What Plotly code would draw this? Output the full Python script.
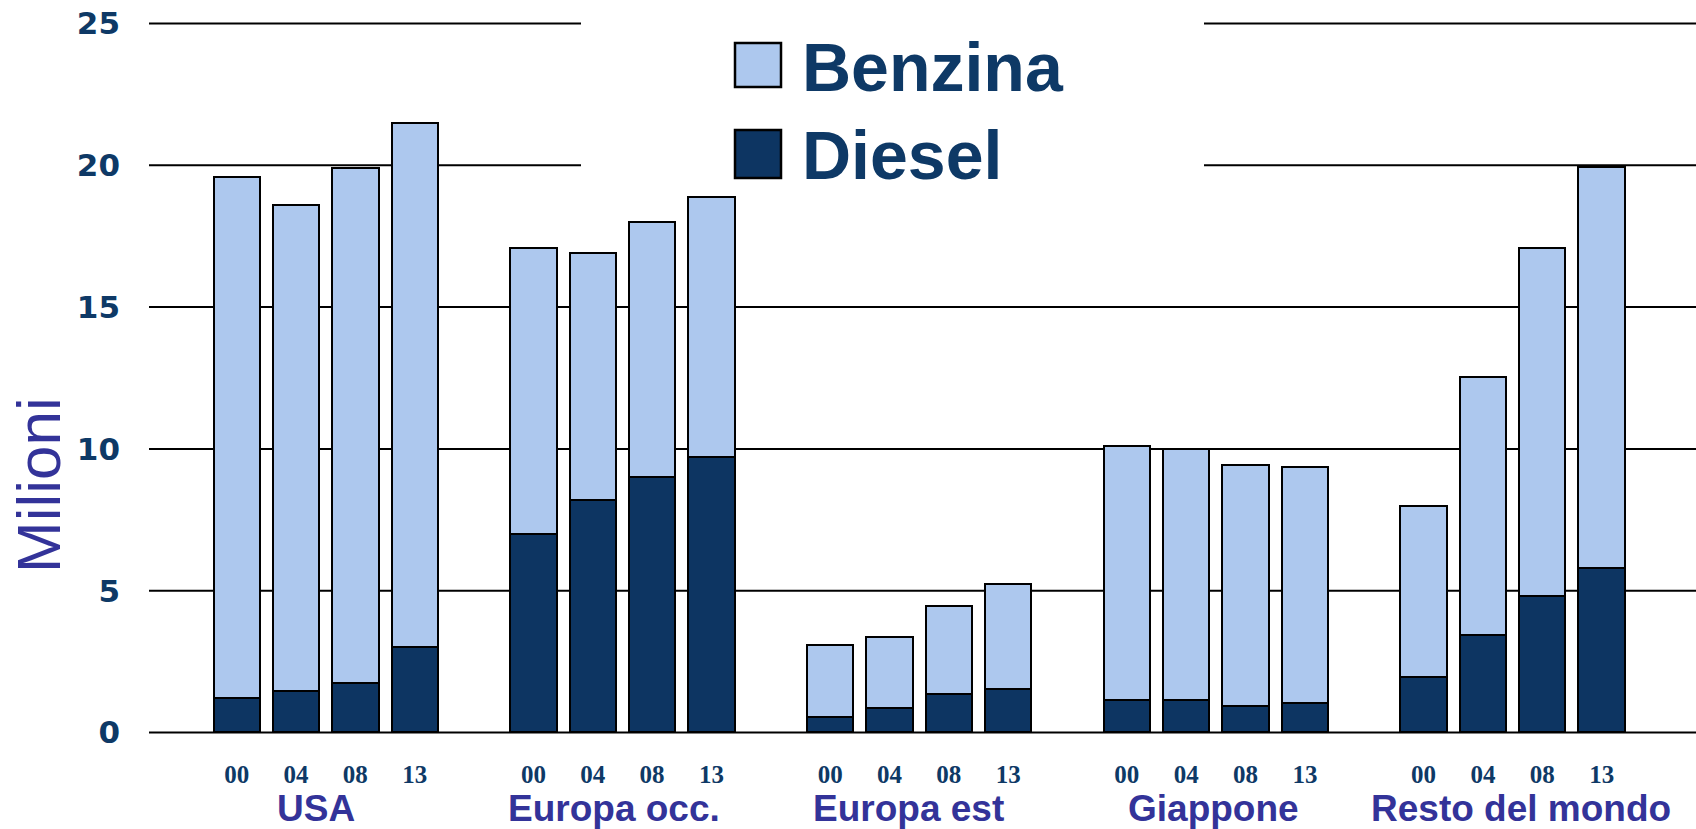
import plotly.graph_objects as go

regions = ["USA", "Europa occ.", "Europa est", "Giappone", "Resto del mondo"]
years = ["00", "04", "08", "13"]
diesel = [
    [1.2, 1.45, 1.75, 3.0],
    [7.0, 8.2, 9.0, 9.7],
    [0.55, 0.85, 1.35, 1.55],
    [1.15, 1.15, 0.95, 1.05],
    [1.95, 3.45, 4.8, 5.8],
]
benzina = [
    [18.4, 17.15, 18.15, 18.5],
    [10.1, 8.7, 9.0, 9.2],
    [2.55, 2.5, 3.1, 3.7],
    [8.95, 8.85, 8.5, 8.3],
    [6.05, 9.1, 12.3, 14.15],
]
y_ticks = [0, 5, 10, 15, 20, 25]

LIGHT = "#ADC8EE"
DARK = "#0D3562"
NAVY = "#0E3966"
INDIGO = "#333399"

xs, d_vals, b_vals, tick_text = [], [], [], []
group_centers = []
for gi, reg in enumerate(regions):
    pos = []
    for yi, yr in enumerate(years):
        x = gi * (len(years) + 1) + yi
        pos.append(x)
        xs.append(x)
        d_vals.append(diesel[gi][yi])
        b_vals.append(benzina[gi][yi])
        tick_text.append(yr)
    group_centers.append(sum(pos) / len(pos))

fig = go.Figure()
fig.add_trace(go.Bar(x=xs, y=d_vals, name="Diesel", width=0.78,
                     marker=dict(color=DARK, line=dict(color="black", width=2))))
fig.add_trace(go.Bar(x=xs, y=b_vals, name="Benzina", width=0.78,
                     marker=dict(color=LIGHT, line=dict(color="black", width=2))))

W, H = 1696, 829
ml, mr, mt, mb = 149, 0, 15, 88
pw, ph = W - ml - mr, H - mt - mb

def px_x(p):
    return (p - ml) / pw

def px_y(p):
    return (H - mb - p) / ph

# gridlines drawn as shapes; the top two are interrupted by the legend
gap0, gap1 = px_x(581), px_x(1204)
shapes = []
for t in y_ticks:
    if t >= 20:
        segs = [(0, gap0), (gap1, 1)]
    else:
        segs = [(0, 1)]
    for a, b in segs:
        shapes.append(dict(type="line", xref="paper", yref="y", x0=a, x1=b, y0=t, y1=t,
                           line=dict(color="black", width=2), layer="below"))

shapes += [
    dict(type="rect", xref="paper", yref="paper",
         x0=px_x(735), x1=px_x(781), y0=px_y(87), y1=px_y(43),
         fillcolor=LIGHT, line=dict(color="black", width=2.5)),
    dict(type="rect", xref="paper", yref="paper",
         x0=px_x(735), x1=px_x(781), y0=px_y(178), y1=px_y(130),
         fillcolor=DARK, line=dict(color="black", width=2.5)),
]

annotations = [
    dict(text="<b>Benzina</b>", xref="paper", yref="paper", x=px_x(800), y=px_y(67),
         xanchor="left", yanchor="middle", showarrow=False,
         font=dict(family="Liberation Sans", size=68, color=NAVY)),
    dict(text="<b>Diesel</b>", xref="paper", yref="paper", x=px_x(800), y=px_y(155),
         xanchor="left", yanchor="middle", showarrow=False,
         font=dict(family="Liberation Sans", size=68, color=NAVY)),
    dict(text="Milioni", xref="paper", yref="paper", x=px_x(38), y=px_y(485),
         xanchor="center", yanchor="middle", showarrow=False, textangle=-90,
         font=dict(family="Liberation Sans", size=62, color=INDIGO)),
]
label_shift = [-10, -8, -11, -2, 8]
for reg, c, s in zip(regions, group_centers, label_shift):
    annotations.append(dict(text="<b>%s</b>" % reg, x=c, xref="x", yref="paper",
                            y=px_y(808), xanchor="center", yanchor="middle", showarrow=False,
                            xshift=s,
                            font=dict(family="Liberation Sans", size=37, color=INDIGO)))

fig.update_layout(
    width=W, height=H,
    barmode="stack",
    bargap=0,
    showlegend=False,
    plot_bgcolor="white", paper_bgcolor="white",
    margin=dict(l=ml, r=mr, t=mt, b=mb, pad=0),
    shapes=shapes,
    annotations=annotations,
    xaxis=dict(range=[-1.477, 24.59], tickvals=xs, ticktext=tick_text,
               showgrid=False, zeroline=False, showline=False, ticks="",
               ticklabelstandoff=16,
               tickfont=dict(family="Liberation Serif", size=25, color=NAVY, weight="bold")),
    yaxis=dict(range=[-0.3, 25.3], tickvals=y_ticks,
               showgrid=False, zeroline=False, showline=False, ticks="",
               ticklabelstandoff=28,
               tickfont=dict(family="DejaVu Sans", size=31, color=NAVY, weight="bold")),
)

fig.write_html("out.html", config={"displayModeBar": False},
               post_script="document.body.style.margin='0px';document.body.style.overflow='hidden';")
